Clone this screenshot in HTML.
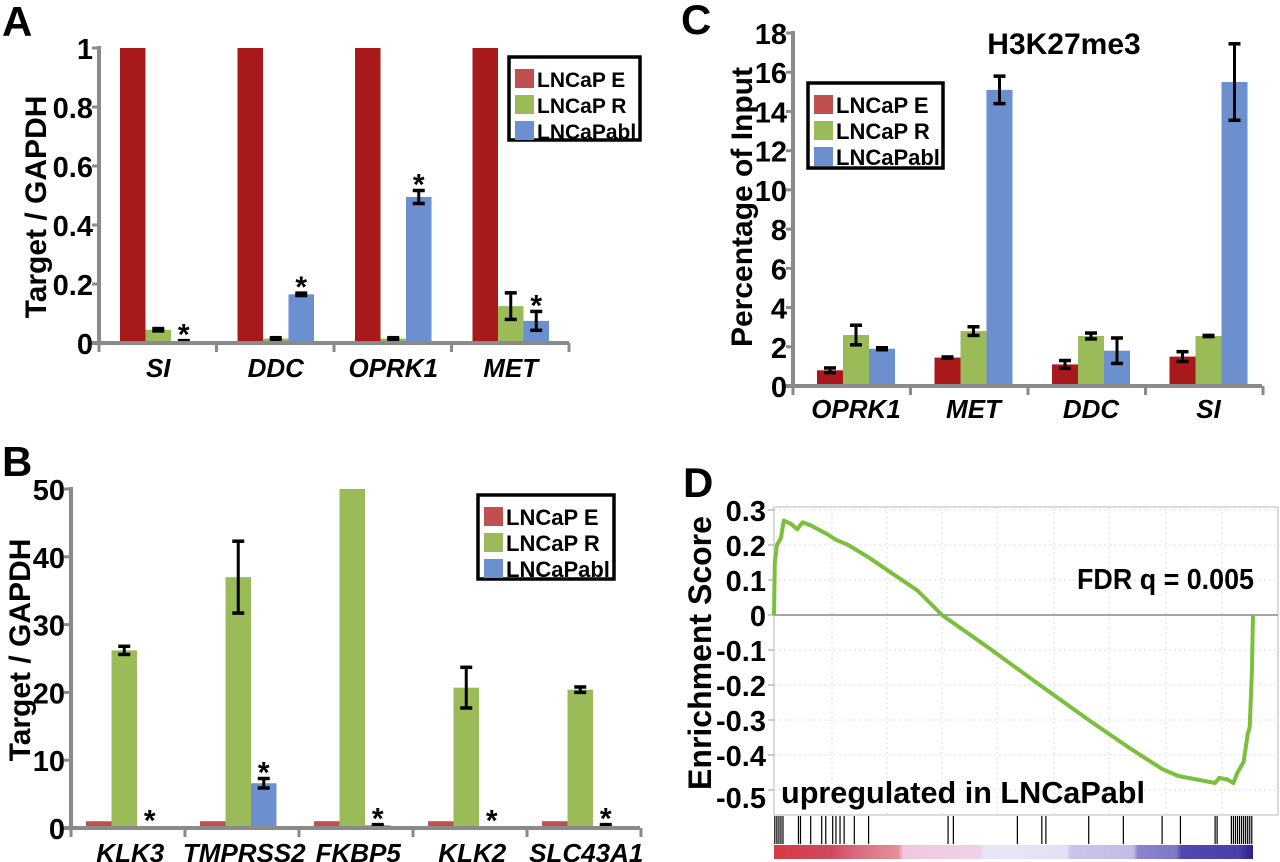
<!DOCTYPE html>
<html><head><meta charset="utf-8"><style>
html,body{margin:0;padding:0;background:#fff;}
svg{display:block;font-family:"Liberation Sans",Arial,sans-serif;}
</style></head><body>
<svg id="fig" width="1280" height="862" viewBox="0 0 1280 862"></svg>
<script>
// ---------- Data ----------
const seriesNames = ["LNCaP E","LNCaP R","LNCaPabl"];
// Panel A
const aCategories = ["SI","DDC","OPRK1","MET"];
const aRed = [1,1,1,1];
const aGreen = [0.045,0.015,0.015,0.125];
const aGreenErr = [0.004,0.003,0.003,0.045];
const aBlue = [0.005,0.165,0.495,0.075];
const aBlueErr = [0.003,0.004,0.022,0.032];
const aStar = [true,true,true,true];
const aTicks = ["0","0.2","0.4","0.6","0.8","1"];
// Panel B
const bCategories = ["KLK3","TMPRSS2","FKBP5","KLK2","SLC43A1"];
const bRed = [1,1,1,1,1];
const bGreen = [26.2,37,50,20.7,20.4];
const bGreenErr = [0.6,5.3,0,3.0,0.4];
const bBlue = [0.2,6.6,0.4,0.2,0.3];
const bBlueErr = [0,0.7,0.1,0,0.2];
const bStar = [true,true,true,true,true];
const bTicks = ["0","10","20","30","40","50"];
// Panel C
const cCategories = ["OPRK1","MET","DDC","SI"];
const cRed = [0.8,1.45,1.1,1.5];
const cRedErr = [0.12,0.03,0.2,0.25];
const cGreen = [2.6,2.8,2.55,2.55];
const cGreenErr = [0.5,0.22,0.15,0.03];
const cBlue = [1.9,15.1,1.8,15.5];
const cBlueErr = [0.05,0.7,0.65,1.95];
const cTicks = ["0","2","4","6","8","10","12","14","16","18"];
// Panel D
const dRank = [0,2,7,17,24,42,57,70,92,132,152,182,232,282,352,412,522,652,772,872,952,992,1082,1092,1112,1127,1137,1152,1162,1167,1172,1175];
const dES = [0,0.15,0.2,0.22,0.27,0.26,0.245,0.265,0.255,0.23,0.215,0.2,0.165,0.125,0.07,0,-0.09,-0.2,-0.3,-0.38,-0.44,-0.46,-0.48,-0.465,-0.47,-0.48,-0.45,-0.42,-0.34,-0.32,-0.17,0];
const dHits = [2,7,12,17,22,60,65,90,117,127,144,152,162,172,197,232,427,440,597,657,667,772,857,952,997,1082,1087,1122,1127,1132,1137,1142,1147,1152,1157,1162,1167,1172];
const dTicks = ["0.3","0.2","0.1","0","-0.1","-0.2","-0.3","-0.4","-0.5"];
const dTickVals = [0.3,0.2,0.1,0,-0.1,-0.2,-0.3,-0.4,-0.5];

// ---------- helpers ----------
const NS="http://www.w3.org/2000/svg";
const svg=document.getElementById('fig');
function el(tag,attrs,parent,text){const e=document.createElementNS(NS,tag);for(const k in attrs)e.setAttribute(k,attrs[k]);if(text!==undefined)e.textContent=text;(parent||svg).appendChild(e);return e;}

function errBar(g,x,yTop,yBot){
  const l=el('line',{x1:x,x2:x,y1:yTop,y2:yBot,stroke:'#000','stroke-width':3},g);
  
  
  el('line',{x1:x-6,x2:x+6,y1:yTop,y2:yTop,stroke:'#000','stroke-width':3.5},g);
  el('line',{x1:x-6,x2:x+6,y1:yBot,y2:yBot,stroke:'#000','stroke-width':3.5},g);
}

function barChart(cfg){
  const g=el('g',{},svg);
  
  
  const y=v=>cfg.y0-(v/cfg.vmax)*(cfg.y0-cfg.yTop);
  const n=cfg.cats.length;
  const series=[cfg.red,cfg.green,cfg.blue];
  const errs=[cfg.redErr,cfg.greenErr,cfg.blueErr];
  for(let i=0;i<n;i++){
    const cx=cfg.x0+i*cfg.cw+cfg.off;
    for(let s=0;s<3;s++){
      const v=Math.min(series[s][i],cfg.vmax);
      const bx=cx+s*cfg.bw;
      const r=el('rect',{x:bx,y:y(v),width:cfg.bw,height:cfg.y0-y(v),fill:cfg.colors[s]},g);
      
      
      const e=errs[s]?errs[s][i]:0;
      if(e>0){errBar(g,bx+cfg.bw/2,y(series[s][i]+e),y(Math.max(series[s][i]-e,0)));}
    }
    if(cfg.star&&cfg.star[i]){
      const top=y(cfg.blue[i]+(cfg.blueErr[i]||0));
      const t=el('text',{x:cx+2.5*cfg.bw,y:top+4,'font-size':30,'font-weight':'bold','text-anchor':'middle'},g,'*');
      
      
    }
    const lab=el('text',{x:cx+1.5*cfg.bw+(cfg.labShift||0),y:cfg.labY,'font-size':26,'font-weight':'bold','font-style':'italic','text-anchor':'middle'},g,cfg.cats[i]);
    
    
  }
  el('line',{x1:cfg.x0,x2:cfg.x0,y1:cfg.yTop-2,y2:cfg.y0+2,stroke:'#8a8a8a','stroke-width':4},g);
  el('line',{x1:cfg.x0-8,x2:cfg.xEnd,y1:cfg.y0,y2:cfg.y0,stroke:'#8a8a8a','stroke-width':4},g);
  for(let i=0;i<=n;i++){const tx=cfg.x0+i*cfg.cw;if(tx<=cfg.xEnd+1)el('line',{x1:tx,x2:tx,y1:cfg.y0,y2:cfg.y0+9,stroke:'#8a8a8a','stroke-width':3},g);}
  cfg.ticks.forEach((t,i)=>{
    const v=i*cfg.vmax/(cfg.ticks.length-1);
    el('line',{x1:cfg.x0-7,x2:cfg.x0,y1:y(v),y2:y(v),stroke:'#8a8a8a','stroke-width':3},g);
    const tt=el('text',{x:cfg.x0-6,y:y(v)+11,'font-size':29,'font-weight':'bold','text-anchor':'end'},g,t);
    
    
  });
  const yt=el('text',{x:cfg.titleX,y:cfg.titleY,'font-size':30,'font-weight':'bold','text-anchor':'middle',transform:`rotate(-90 ${cfg.titleX} ${cfg.titleY})`},g,cfg.ytitle);
  
  
  const L=cfg.legend;
  const lg=el('g',{},g);
  
  
  el('rect',{x:L.x,y:L.y,width:L.w,height:L.h,fill:'#fff',stroke:'#000','stroke-width':3.5},lg);
  seriesNames.forEach((nm,s)=>{
    const ey=L.y+12+s*26;
    el('rect',{x:L.x+6,y:ey,width:19,height:19,fill:cfg.legColors[s]},lg);
    const t=el('text',{x:L.x+28,y:ey+18,'font-size':L.fs||22,'font-weight':'bold'},lg,nm);
    
    
  });
}

[["A",2,36],["B",2,476],["C",681,34],["D",683,497]].forEach(p=>{
  const t=el('text',{x:p[1],y:p[2],'font-size':42,'font-weight':'bold'},svg,p[0]);
  
  
});

const RED_DARK='#a8191b', RED_L='#c0504d', GREEN='#9bbb59', BLUE='#6b8fcf';

barChart({name:'panel-a-chart',cats:aCategories,red:aRed,green:aGreen,blue:aBlue,redErr:null,greenErr:aGreenErr,blueErr:aBlueErr,star:aStar,
  x0:99,xEnd:569,cw:117.5,off:21,bw:25.5,y0:343,yTop:48,vmax:1,ticks:aTicks,labY:377,ytitle:'Target / GAPDH',titleX:46,titleY:207,
  colors:[RED_DARK,GREEN,BLUE],legColors:[RED_L,GREEN,BLUE],legend:{x:509,y:57,w:131,h:83,fs:21}});

barChart({name:'panel-b-chart',cats:bCategories,red:bRed,green:bGreen,blue:bBlue,redErr:null,greenErr:bGreenErr,blueErr:bBlueErr,star:bStar,
  x0:71,xEnd:640,cw:114,off:15,bw:25.5,y0:828,yTop:489,vmax:50,ticks:bTicks,labY:862,labShift:6,ytitle:'Target / GAPDH',titleX:30,titleY:650,
  colors:[RED_L,GREEN,BLUE],legColors:[RED_L,GREEN,BLUE],legend:{x:478,y:495,w:136,h:84}});

barChart({name:'panel-c-chart',cats:cCategories,red:cRed,green:cGreen,blue:cBlue,redErr:cRedErr,greenErr:cGreenErr,blueErr:cBlueErr,star:null,
  x0:793,xEnd:1262,cw:117.5,off:24,bw:26,y0:386,yTop:33,vmax:18,ticks:cTicks,labY:418,ytitle:'Percentage of Input',titleX:752,titleY:207,
  colors:[RED_DARK,GREEN,BLUE],legColors:[RED_L,GREEN,BLUE],legend:{x:808,y:83,w:135,h:85}});
{
 const t=el('text',{x:1064,y:54,'font-size':30,'font-weight':'bold','text-anchor':'middle'},svg,'H3K27me3');
 
 
}

// ---------- Panel D ----------
(function(){
  const g=el('g',{},svg);
  
  
  const L=774,R=1278,T=507,B=815,xEnd=1253,rmax=1175;
  const x=r=>L+(r/rmax)*(xEnd-L);
  const y=v=>615-v*350;
  el('rect',{x:L,y:T,width:R-L,height:B-T,fill:'#fff',stroke:'#cfcfcf','stroke-width':1.5},g);
  [832,887,942,997,1054,1109,1166,1222].forEach(gx=>el('line',{x1:gx,x2:gx,y1:T,y2:B,stroke:'#ddd','stroke-dasharray':'2,3'},g));
  dTickVals.forEach((v,i)=>{
    if(v!==0)el('line',{x1:L,x2:R,y1:y(v),y2:y(v),stroke:'#ddd','stroke-dasharray':'2,3'},g);
    el('line',{x1:L-6,x2:L,y1:y(v),y2:y(v),stroke:'#999'},g);
    const t=el('text',{x:L-8,y:y(v)+(i===dTicks.length-1?18:11),'font-size':29,'font-weight':'bold','text-anchor':'end'},g,dTicks[i]);
    
    
  });
  el('line',{x1:L,x2:R,y1:y(0),y2:y(0),stroke:'#888','stroke-width':1.5},g);
  const pts=dRank.map((r,i)=>x(r).toFixed(1)+','+y(dES[i]).toFixed(1)).join(' ');
  const pl=el('polyline',{points:pts,fill:'none',stroke:'#7bbf3a','stroke-width':4,'stroke-linejoin':'round'},g);
  
  
  const bc=el('g',{},g);
  
  
  dHits.forEach(h=>el('line',{x1:x(h),x2:x(h),y1:816,y2:844,stroke:'#000','stroke-width':1.2},bc));
  const defs=el('defs',{},svg);
  const lgd=el('linearGradient',{id:'rk',x1:0,x2:1,y1:0,y2:0},defs);
  [[0,'#d63a48'],[0.12,'#d04a5e'],[0.17,'#d86a80'],[0.26,'#e59098'],[0.27,'#f2c6e0'],[0.43,'#f0d0e8'],[0.44,'#e8e6f6'],[0.61,'#e4e0f4'],[0.62,'#cbc3ea'],[0.75,'#c4bce6'],[0.76,'#8a84cc'],[0.84,'#7f78c6'],[0.85,'#5048b4'],[0.97,'#4a40ac'],[1,'#28208a']].forEach(s=>el('stop',{offset:s[0],'stop-color':s[1]},lgd));
  const cb=el('rect',{x:L,y:845,width:xEnd-L,height:14,fill:'url(#rk)'},g);
  
  
  const f=el('text',{x:1077,y:589,'font-size':29,'font-weight':'bold',textLength:177,lengthAdjust:'spacingAndGlyphs'},g,'FDR q = 0.005');
  
  
  const u=el('text',{x:781,y:803,'font-size':31,'font-weight':'bold',textLength:364,lengthAdjust:'spacingAndGlyphs'},g,'upregulated in LNCaPabl');
  
  
  const yt=el('text',{x:711,y:653,'font-size':32,'font-weight':'bold','text-anchor':'middle',transform:'rotate(-90 711 653)'},g,'Enrichment Score');
  
  
})();
</script>
</body></html>
